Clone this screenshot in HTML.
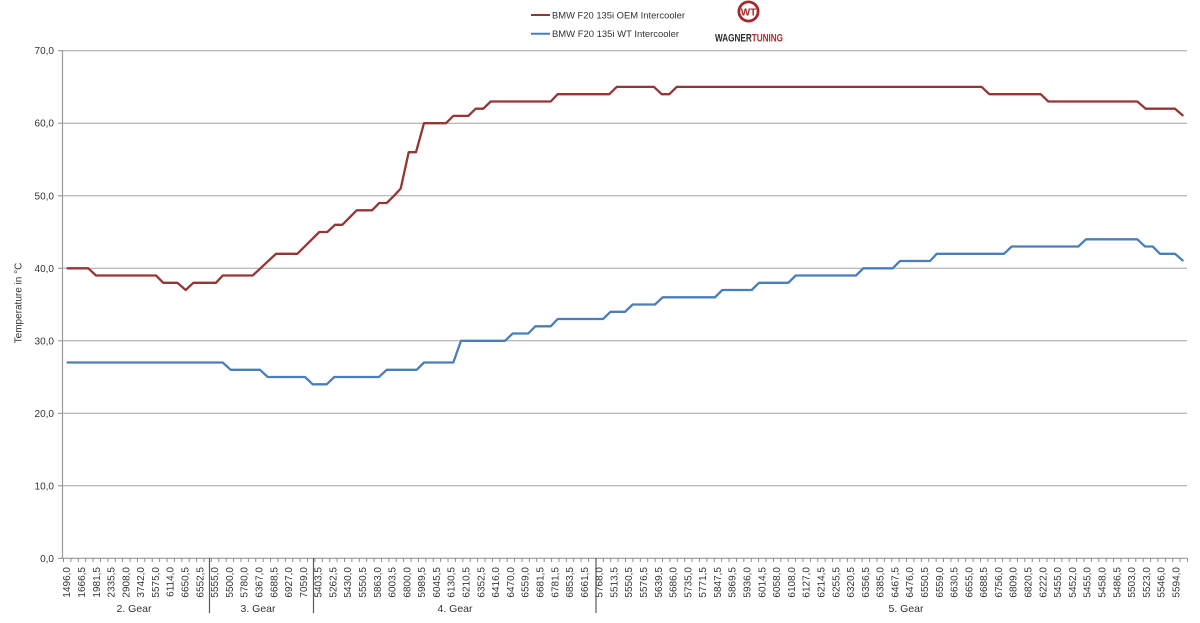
<!DOCTYPE html>
<html>
<head>
<meta charset="utf-8">
<style>
  html,body{margin:0;padding:0;background:#fff;}
  body{width:1200px;height:623px;overflow:hidden;}
  svg{display:block;font-family:"Liberation Sans",Arial,sans-serif;}
</style>
</head>
<body>
<svg width="1200" height="623" viewBox="0 0 1200 623" xmlns="http://www.w3.org/2000/svg">
  <defs>
    <pattern id="xt" patternUnits="userSpaceOnUse" x="63" y="558" width="7.395" height="5">
      <line x1="0.5" y1="0" x2="0.5" y2="5" stroke="#8c8c8c" stroke-width="1"/>
    </pattern>
  </defs>

  <!-- gridlines -->
  <g stroke="#a3a3a3" stroke-width="1">
    <line x1="63" y1="50.7" x2="1187" y2="50.7"/>
    <line x1="63" y1="123.2" x2="1187" y2="123.2"/>
    <line x1="63" y1="195.8" x2="1187" y2="195.8"/>
    <line x1="63" y1="268.3" x2="1187" y2="268.3"/>
    <line x1="63" y1="340.8" x2="1187" y2="340.8"/>
    <line x1="63" y1="413.3" x2="1187" y2="413.3"/>
    <line x1="63" y1="485.8" x2="1187" y2="485.8"/>
  </g>
  <!-- y axis ticks -->
  <g stroke="#8c8c8c" stroke-width="1">
    <line x1="58" y1="50.7" x2="63" y2="50.7"/>
    <line x1="58" y1="123.2" x2="63" y2="123.2"/>
    <line x1="58" y1="195.8" x2="63" y2="195.8"/>
    <line x1="58" y1="268.3" x2="63" y2="268.3"/>
    <line x1="58" y1="340.8" x2="63" y2="340.8"/>
    <line x1="58" y1="413.3" x2="63" y2="413.3"/>
    <line x1="58" y1="485.8" x2="63" y2="485.8"/>
    <line x1="58" y1="558.3" x2="63" y2="558.3"/>
  </g>
  <!-- axes -->
  <line x1="62.5" y1="50" x2="62.5" y2="558.5" stroke="#9a9a9a" stroke-width="1.2"/>
  <line x1="62.5" y1="558.3" x2="1187" y2="558.3" stroke="#8c8c8c" stroke-width="1"/>
  <rect x="63" y="558" width="1125" height="4" fill="url(#xt)"/>

  <!-- gear separators -->
  <g stroke="#5a5a5a" stroke-width="1.2">
    <line x1="209.5" y1="558" x2="209.5" y2="613"/>
    <line x1="313.5" y1="558" x2="313.5" y2="613"/>
    <line x1="596" y1="558" x2="596" y2="613"/>
  </g>

  <!-- y labels -->
  <g font-size="10" fill="#333" text-anchor="end">
    <text x="54" y="54.2">70,0</text>
    <text x="54" y="126.7">60,0</text>
    <text x="54" y="199.3">50,0</text>
    <text x="54" y="271.8">40,0</text>
    <text x="54" y="344.3">30,0</text>
    <text x="54" y="416.8">20,0</text>
    <text x="54" y="489.3">10,0</text>
    <text x="54" y="561.8">0,0</text>
  </g>
  <text transform="translate(21.5,303) rotate(-90)" font-size="10" fill="#333" text-anchor="middle">Temperature in °C</text>

  <!-- series -->
  <polyline fill="none" stroke="#943634" stroke-width="2.3" stroke-linejoin="round" points="66.7,268.3 88.3,268.3 96,275.5 156,275.5 163.3,282.8 177.3,282.8 185.7,290 193.3,282.8 216,282.8 222.7,275.5 252.7,275.5 276,253.8 297.3,253.8 319.3,232 327.3,232 335,224.8 342.3,224.8 356.7,210.3 372,210.3 379.3,203 386.7,203 394,195.8 400.7,188.5 408.7,152.2 416,152.2 424,123.2 446,123.2 453.3,115.9 468.3,115.9 475.7,108.7 483.3,108.7 490.7,101.5 550.7,101.5 557.7,94.2 609.3,94.2 616.7,86.9 654,86.9 661.7,94.2 669.3,94.2 676.7,86.9 981.7,86.9 989.3,94.2 1040.7,94.2 1048.3,101.5 1137.3,101.5 1145.7,108.7 1175,108.7 1183.3,115.9"/>
  <polyline fill="none" stroke="#4a7ebb" stroke-width="2.3" stroke-linejoin="round" points="66.7,362.5 222.7,362.5 230.7,369.8 260,369.8 267.7,377 305,377 312.7,384.3 326.7,384.3 334.3,377 379,377 386.7,369.8 416.7,369.8 424,362.5 453.3,362.5 461,340.8 505,340.8 512.7,333.5 528.3,333.5 535.3,326.3 550.7,326.3 557.7,319 603,319 610.5,311.8 625,311.8 632.7,304.5 655,304.5 662.7,297.3 715,297.3 722.3,290 751.7,290 759,282.8 788.3,282.8 795.7,275.5 856,275.5 863.3,268.3 892.7,268.3 900,261 930,261 936.7,253.8 1004,253.8 1011.7,246.5 1078.3,246.5 1086,239.3 1137.3,239.3 1145,246.5 1152.7,246.5 1160,253.8 1175,253.8 1183.3,261"/>

  <!-- x labels -->
  <g font-size="10" fill="#333" text-anchor="end">
    <text transform="translate(70.2,567) rotate(-90)">1496,0</text>
    <text transform="translate(85,567) rotate(-90)">1666,5</text>
    <text transform="translate(99.8,567) rotate(-90)">1981,5</text>
    <text transform="translate(114.6,567) rotate(-90)">2335,5</text>
    <text transform="translate(129.4,567) rotate(-90)">2908,0</text>
    <text transform="translate(144.2,567) rotate(-90)">3742,0</text>
    <text transform="translate(158.9,567) rotate(-90)">5575,0</text>
    <text transform="translate(173.7,567) rotate(-90)">6114,0</text>
    <text transform="translate(188.5,567) rotate(-90)">6650,5</text>
    <text transform="translate(203.3,567) rotate(-90)">6552,5</text>
    <text transform="translate(218.1,567) rotate(-90)">5555,0</text>
    <text transform="translate(232.9,567) rotate(-90)">5500,0</text>
    <text transform="translate(247.7,567) rotate(-90)">5780,0</text>
    <text transform="translate(262.5,567) rotate(-90)">6367,0</text>
    <text transform="translate(277.3,567) rotate(-90)">6688,5</text>
    <text transform="translate(292.1,567) rotate(-90)">6927,0</text>
    <text transform="translate(306.8,567) rotate(-90)">7059,0</text>
    <text transform="translate(321.6,567) rotate(-90)">5403,5</text>
    <text transform="translate(336.4,567) rotate(-90)">5262,5</text>
    <text transform="translate(351.2,567) rotate(-90)">5430,0</text>
    <text transform="translate(366,567) rotate(-90)">5550,5</text>
    <text transform="translate(380.8,567) rotate(-90)">5863,0</text>
    <text transform="translate(395.6,567) rotate(-90)">6003,5</text>
    <text transform="translate(410.4,567) rotate(-90)">6800,0</text>
    <text transform="translate(425.2,567) rotate(-90)">5989,5</text>
    <text transform="translate(439.9,567) rotate(-90)">6045,5</text>
    <text transform="translate(454.7,567) rotate(-90)">6130,5</text>
    <text transform="translate(469.5,567) rotate(-90)">6210,5</text>
    <text transform="translate(484.3,567) rotate(-90)">6352,5</text>
    <text transform="translate(499.1,567) rotate(-90)">6416,0</text>
    <text transform="translate(513.9,567) rotate(-90)">6470,0</text>
    <text transform="translate(528.7,567) rotate(-90)">6559,0</text>
    <text transform="translate(543.5,567) rotate(-90)">6681,5</text>
    <text transform="translate(558.3,567) rotate(-90)">6781,5</text>
    <text transform="translate(573.1,567) rotate(-90)">6853,5</text>
    <text transform="translate(587.8,567) rotate(-90)">6661,5</text>
    <text transform="translate(602.6,567) rotate(-90)">5768,0</text>
    <text transform="translate(617.4,567) rotate(-90)">5513,5</text>
    <text transform="translate(632.2,567) rotate(-90)">5550,5</text>
    <text transform="translate(647,567) rotate(-90)">5576,5</text>
    <text transform="translate(661.8,567) rotate(-90)">5639,5</text>
    <text transform="translate(676.6,567) rotate(-90)">5686,0</text>
    <text transform="translate(691.4,567) rotate(-90)">5735,0</text>
    <text transform="translate(706.2,567) rotate(-90)">5771,5</text>
    <text transform="translate(720.9,567) rotate(-90)">5847,5</text>
    <text transform="translate(735.7,567) rotate(-90)">5869,5</text>
    <text transform="translate(750.5,567) rotate(-90)">5936,0</text>
    <text transform="translate(765.3,567) rotate(-90)">6014,5</text>
    <text transform="translate(780.1,567) rotate(-90)">6058,0</text>
    <text transform="translate(794.9,567) rotate(-90)">6108,0</text>
    <text transform="translate(809.7,567) rotate(-90)">6127,0</text>
    <text transform="translate(824.5,567) rotate(-90)">6214,5</text>
    <text transform="translate(839.3,567) rotate(-90)">6255,5</text>
    <text transform="translate(854.1,567) rotate(-90)">6320,5</text>
    <text transform="translate(868.8,567) rotate(-90)">6356,5</text>
    <text transform="translate(883.6,567) rotate(-90)">6385,0</text>
    <text transform="translate(898.4,567) rotate(-90)">6467,5</text>
    <text transform="translate(913.2,567) rotate(-90)">6476,0</text>
    <text transform="translate(928,567) rotate(-90)">6550,5</text>
    <text transform="translate(942.8,567) rotate(-90)">6559,0</text>
    <text transform="translate(957.6,567) rotate(-90)">6630,5</text>
    <text transform="translate(972.4,567) rotate(-90)">6655,0</text>
    <text transform="translate(987.2,567) rotate(-90)">6688,5</text>
    <text transform="translate(1001.9,567) rotate(-90)">6756,0</text>
    <text transform="translate(1016.7,567) rotate(-90)">6809,0</text>
    <text transform="translate(1031.5,567) rotate(-90)">6820,5</text>
    <text transform="translate(1046.3,567) rotate(-90)">6222,0</text>
    <text transform="translate(1061.1,567) rotate(-90)">5455,0</text>
    <text transform="translate(1075.9,567) rotate(-90)">5452,0</text>
    <text transform="translate(1090.7,567) rotate(-90)">5455,0</text>
    <text transform="translate(1105.5,567) rotate(-90)">5458,0</text>
    <text transform="translate(1120.3,567) rotate(-90)">5486,5</text>
    <text transform="translate(1135.1,567) rotate(-90)">5503,0</text>
    <text transform="translate(1149.8,567) rotate(-90)">5523,0</text>
    <text transform="translate(1164.6,567) rotate(-90)">5546,0</text>
    <text transform="translate(1179.4,567) rotate(-90)">5594,0</text>
  </g>

  <!-- gear labels -->
  <g font-size="10.5" fill="#333" text-anchor="middle">
    <text x="134" y="612">2. Gear</text>
    <text x="258" y="612">3. Gear</text>
    <text x="455" y="612">4. Gear</text>
    <text x="906" y="612">5. Gear</text>
  </g>

  <!-- legend -->
  <line x1="531" y1="15" x2="550" y2="15" stroke="#943634" stroke-width="2"/>
  <text x="552" y="18.3" font-size="9.5" fill="#333" textLength="133" lengthAdjust="spacingAndGlyphs">BMW F20 135i OEM Intercooler</text>
  <line x1="531" y1="33.7" x2="550" y2="33.7" stroke="#4a7ebb" stroke-width="2"/>
  <text x="552" y="37" font-size="9.5" fill="#333" textLength="127" lengthAdjust="spacingAndGlyphs">BMW F20 135i WT Intercooler</text>

  <!-- logo -->
  <circle cx="748.5" cy="11.5" r="11" fill="#a4282a"/>
  <circle cx="748.5" cy="11.5" r="8.2" fill="#fff"/>
  <text x="748.5" y="15.5" font-size="10" font-weight="bold" fill="#a4282a" text-anchor="middle">WT</text>
  <text x="715" y="41.5" font-size="11" font-weight="bold" textLength="68" lengthAdjust="spacingAndGlyphs"><tspan fill="#2a2a2a">WAGNER</tspan><tspan fill="#b8282b">TUNING</tspan></text>
</svg>
</body>
</html>
